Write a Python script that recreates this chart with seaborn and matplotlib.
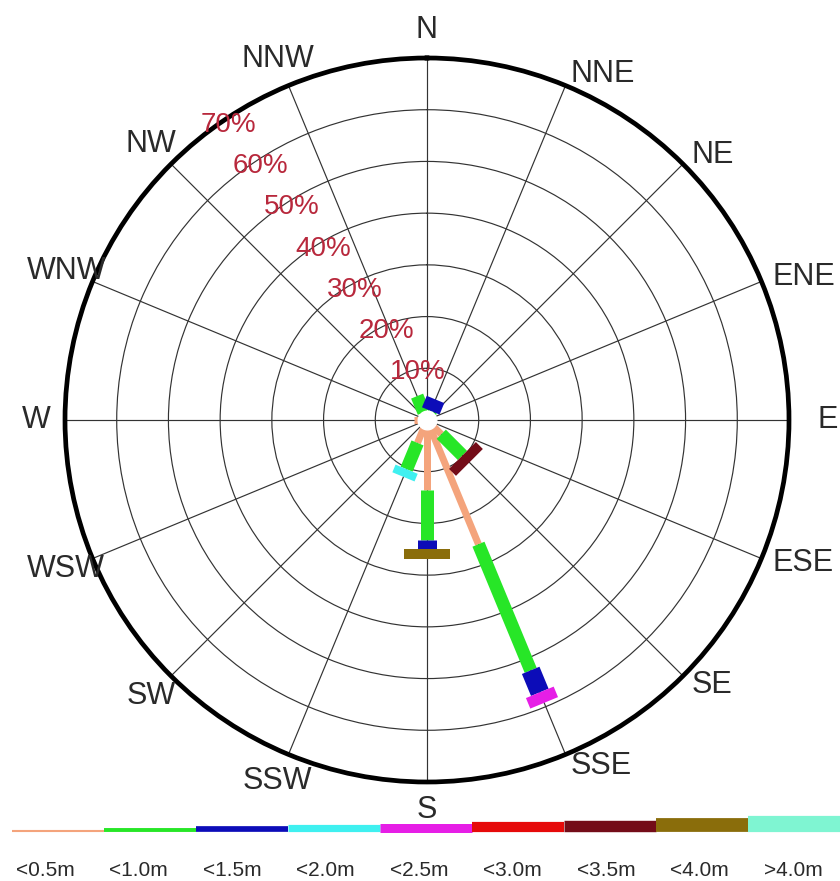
import numpy as np
import matplotlib.pyplot as plt
import seaborn as sns

sns.set_theme(style='white')
plt.rcParams['font.family'] = ['Liberation Sans', 'DejaVu Sans']

# wave rose: 16 directions, clockwise from N
directions = ['N', 'NNE', 'NE', 'ENE', 'E', 'ESE', 'SE', 'SSE',
              'S', 'SSW', 'SW', 'WSW', 'W', 'WNW', 'NW', 'NNW']

height_bins = ['<0.5m', '<1.0m', '<1.5m', '<2.0m', '<2.5m',
               '<3.0m', '<3.5m', '<4.0m', '>4.0m']
bin_colors = ['#f4a47c', '#27e627', '#0c0cb8', '#3ff0f0', '#e61ee6',
              '#e60a0a', '#740c18', '#8a6d0b', '#7ff5d2']
bin_widths = [7, 13, 19, 24, 30, 34, 38, 46, 54]  # bar thickness, px

# percent occurrence per direction for each height bin
pct_05 = [0, 1.0, 0, 0, 0, 0, 3.9, 26.0, 13.6, 4.8, 0, 0, 2.5, 0, 0, 1.6]
pct_10 = [0, 0.9, 0, 0, 0, 0, 5.8, 26.4, 9.7, 5.5, 0, 0, 0, 0, 0, 3.4]
pct_15 = [0, 2.4, 0, 0, 0, 0, 0, 4.6, 1.6, 0, 0, 0, 0, 0, 0, 0]
pct_20 = [0, 0, 0, 0, 0, 0, 0, 0, 0, 1.6, 0, 0, 0, 0, 0, 0]
pct_25 = [0, 0, 0, 0, 0, 0, 0, 2.2, 0, 0, 0, 0, 0, 0, 0, 0]
pct_30 = [0] * 16
pct_35 = [0, 0, 0, 0, 0, 0, 1.9, 0, 0, 0, 0, 0, 0, 0, 0, 0]
pct_40 = [0, 0, 0, 0, 0, 0, 0, 0, 1.9, 0, 0, 0, 0, 0, 0, 0]
pct_gt4 = [0] * 16

ring_ticks = [10, 20, 30, 40, 50, 60, 70]

stack = np.array([pct_05, pct_10, pct_15, pct_20, pct_25,
                  pct_30, pct_35, pct_40, pct_gt4])
theta = np.deg2rad(np.arange(16) * 22.5)

fig = plt.figure(figsize=(8.4, 8.81), dpi=100)
ax = fig.add_axes([65 / 840, 99 / 881, 724 / 840, 724 / 881], projection='polar')
ax.set_theta_zero_location('N')
ax.set_theta_direction(-1)
ax.set_ylim(0, 70)
ax.set_xticks(theta)
ax.set_xticklabels([])
ax.set_yticks(ring_ticks[:-1])
ax.set_yticklabels([])
ax.set_axisbelow(True)
ax.grid(True, color='#333333', lw=0.85)
ax.spines['polar'].set_linewidth(3.4)
ax.spines['polar'].set_color('black')
ax.set_facecolor('white')

# stacked bars as thick radial strokes
cum = np.zeros(16)
for k in range(len(height_bins)):
    for d in range(16):
        v = stack[k, d]
        if v > 0:
            ax.plot([theta[d], theta[d]], [cum[d], cum[d] + v], color=bin_colors[k],
                    lw=bin_widths[k] * 0.72, solid_capstyle='butt', zorder=3 + k * 0.01)
    cum += stack[k]

# calm centre
circ = np.linspace(0, 2 * np.pi, 100)
ax.fill_between(circ, 0, 1.8, color='white', zorder=4)

# ring labels
for t in ring_ticks:
    ax.text(np.deg2rad(322.5), t + 1.8, f'{t}%', ha='left', va='center',
            color='#b8283c', fontsize=20, zorder=6, clip_on=False)

# direction labels
for d, name in enumerate(directions):
    ang = d * 22.5
    if name == 'E':
        ax.text(theta[d], 75.5, name, ha='left', va='center', fontsize=22,
                color='#2a2a2a', clip_on=False)
    elif 0 < ang < 180:
        ax.text(theta[d], 72.4, name, ha='left', va='center', fontsize=22,
                color='#2a2a2a', clip_on=False)
    else:
        ax.text(theta[d], 75.5, name, ha='center', va='center', fontsize=22,
                color='#2a2a2a', clip_on=False)

# colour key strip along the bottom
lax = fig.add_axes([0, 0, 1, 80 / 881])
lax.set_xlim(0, 840)
lax.set_ylim(0, 80)
lax.axis('off')
for k, lab in enumerate(height_bins):
    w = bin_widths[k] * 0.3
    x0 = 12 + 92 * k
    lax.plot([x0, x0 + 92], [49 + w / 2, 49 + w / 2], color=bin_colors[k],
             lw=w * 0.72, solid_capstyle='butt')
    lax.text(45 + 93.5 * k, 10, lab, ha='center', va='center', fontsize=15,
             color='#2a2a2a')

fig.savefig('out.png', dpi=100, facecolor='white')
